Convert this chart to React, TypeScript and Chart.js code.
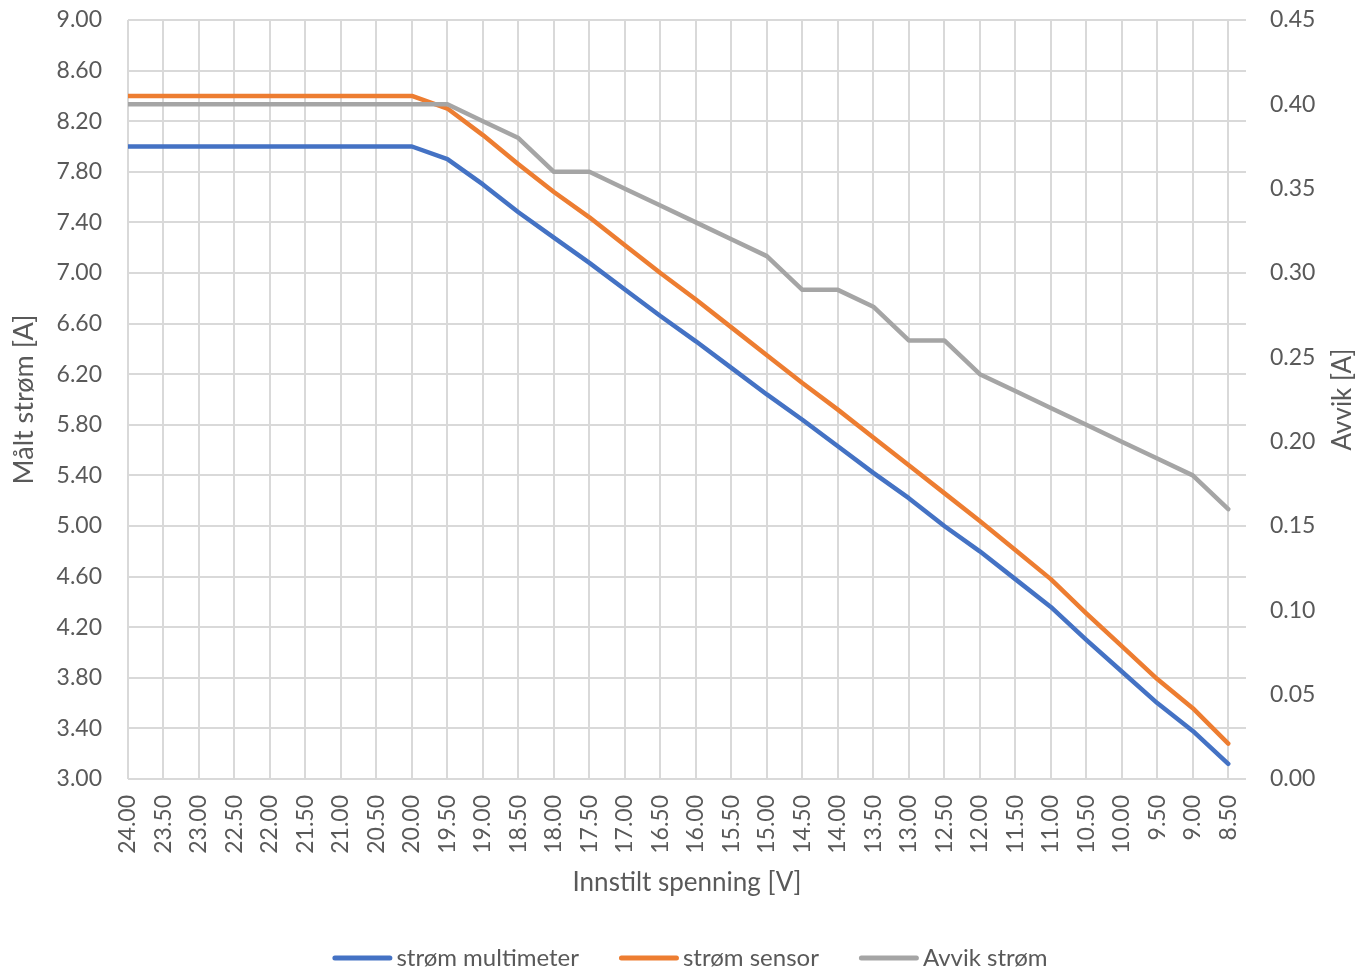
import React, { useEffect, useRef } from "react";
import { Chart, registerables } from "chart.js";

Chart.register(...registerables);

const xLabels = [
  "24.00", "23.50", "23.00", "22.50", "22.00", "21.50", "21.00", "20.50",
  "20.00", "19.50", "19.00", "18.50", "18.00", "17.50", "17.00", "16.50",
  "16.00", "15.50", "15.00", "14.50", "14.00", "13.50", "13.00", "12.50",
  "12.00", "11.50", "11.00", "10.50", "10.00", "9.50", "9.00", "8.50",
];

const stromMultimeter = [
  8.0, 8.0, 8.0, 8.0, 8.0, 8.0, 8.0, 8.0,
  8.0, 7.9, 7.7, 7.48, 7.28, 7.08, 6.87, 6.66,
  6.46, 6.25, 6.04, 5.84, 5.63, 5.42, 5.22, 5.0,
  4.8, 4.58, 4.36, 4.1, 3.85, 3.6, 3.38, 3.12,
];

const stromSensor = [
  8.4, 8.4, 8.4, 8.4, 8.4, 8.4, 8.4, 8.4,
  8.4, 8.3, 8.09, 7.86, 7.64, 7.44, 7.22, 7.0,
  6.79, 6.57, 6.35, 6.13, 5.92, 5.7, 5.48, 5.26,
  5.04, 4.81, 4.58, 4.31, 4.05, 3.79, 3.56, 3.28,
];

const avvikStrom = [
  0.4, 0.4, 0.4, 0.4, 0.4, 0.4, 0.4, 0.4,
  0.4, 0.4, 0.39, 0.38, 0.36, 0.36, 0.35, 0.34,
  0.33, 0.32, 0.31, 0.29, 0.29, 0.28, 0.26, 0.26,
  0.24, 0.23, 0.22, 0.21, 0.2, 0.19, 0.18, 0.16,
];

const seriesNames = ["strøm multimeter", "strøm sensor", "Avvik strøm"];
const seriesColors = ["#4472C4", "#ED7D31", "#A5A5A5"];

const FONT = "Lato";
const TEXT = "#595959";
const GRID = "#D9D9D9";

const rightTitlePlugin = {
  id: "rightTitle",
  afterDraw(chart: any) {
    const { ctx, chartArea } = chart;
    ctx.save();
    ctx.translate(chartArea.right + 97, (chartArea.top + chartArea.bottom) / 2);
    ctx.rotate(-Math.PI / 2);
    ctx.textAlign = "center";
    ctx.textBaseline = "middle";
    ctx.fillStyle = TEXT;
    ctx.font = `26px ${FONT}`;
    ctx.fillText("Avvik [A]", 0, 0);
    ctx.restore();
  },
};

const legendPlugin = {
  id: "bottomLegend",
  afterDraw(chart: any) {
    const { ctx, width } = chart;
    const sample = 60;
    const gap = 4;
    const itemGap = 40;
    const y = 958;
    ctx.save();
    ctx.font = `24px ${FONT}`;
    const widths = seriesNames.map((n) => ctx.measureText(n).width);
    const total =
      widths.reduce((a, b) => a + b, 0) + seriesNames.length * (sample + gap) + (seriesNames.length - 1) * itemGap;
    let x = width / 2 + 4 - total / 2;
    ctx.textBaseline = "middle";
    ctx.textAlign = "left";
    seriesNames.forEach((n, i) => {
      ctx.strokeStyle = seriesColors[i];
      ctx.lineWidth = 5;
      ctx.lineCap = "round";
      ctx.beginPath();
      ctx.moveTo(x + 2.5, y);
      ctx.lineTo(x + sample - 2.5, y);
      ctx.stroke();
      ctx.fillStyle = TEXT;
      ctx.fillText(n, x + sample + gap, y);
      x += sample + gap + widths[i] + itemGap;
    });
    ctx.restore();
  },
};

export default function App() {
  const ref = useRef<HTMLCanvasElement | null>(null);

  useEffect(() => {
    if (!ref.current) return;
    const toPts = (arr: number[]) => arr.map((y, i) => ({ x: i, y }));
    const chart = new Chart(ref.current, {
      type: "line",
      data: {
        datasets: [
          {
            label: seriesNames[0],
            data: toPts(stromMultimeter),
            borderColor: seriesColors[0],
            backgroundColor: seriesColors[0],
            yAxisID: "y",
            order: 3,
          },
          {
            label: seriesNames[1],
            data: toPts(stromSensor),
            borderColor: seriesColors[1],
            backgroundColor: seriesColors[1],
            yAxisID: "y",
            order: 2,
          },
          {
            label: seriesNames[2],
            data: toPts(avvikStrom),
            borderColor: seriesColors[2],
            backgroundColor: seriesColors[2],
            yAxisID: "y1",
            order: 1,
          },
        ],
      },
      options: {
        animation: false,
        responsive: false,
        maintainAspectRatio: false,
        layout: { padding: { top: 20, right: 0, left: 0, bottom: 68 } },
        elements: {
          line: {
            borderWidth: 4.5,
            tension: 0,
            borderCapStyle: "round",
            borderJoinStyle: "round",
          },
          point: { radius: 0, hoverRadius: 0 },
        },
        plugins: {
          tooltip: { enabled: false },
          legend: { display: false },
        },
        scales: {
          x: {
            type: "linear",
            min: 0,
            max: xLabels.length - 0.5,
            afterBuildTicks: (scale: any) => {
              scale.ticks = xLabels.map((_, i) => ({ value: i }));
            },
            afterFit: (scale: any) => {
              scale.height = 127;
              scale.paddingTop = 0;
              scale.paddingBottom = 0;
            },
            grid: { color: GRID, lineWidth: 2, drawTicks: false },
            border: { display: false },
            ticks: {
              autoSkip: false,
              minRotation: 90,
              maxRotation: 90,
              padding: 16,
              color: TEXT,
              font: { family: FONT, size: 23 },
              callback: (v: any) => xLabels[Math.round(Number(v))] ?? "",
            },
            title: {
              display: true,
              text: "Innstilt spenning [V]",
              color: TEXT,
              font: { family: FONT, size: 26 },
              padding: { top: 0, bottom: 8 },
            },
          },
          y: {
            position: "left",
            min: 3,
            max: 9,
            afterFit: (scale: any) => {
              scale.width = 128;
              scale.paddingTop = 0;
              scale.paddingBottom = 0;
            },
            grid: { color: GRID, lineWidth: 2, drawTicks: false },
            border: { display: false },
            ticks: {
              stepSize: 0.4,
              padding: 26,
              color: TEXT,
              font: { family: FONT, size: 23 },
              callback: (v: any) => Number(v).toFixed(2),
            },
            title: {
              display: true,
              text: "Målt strøm [A]",
              color: TEXT,
              font: { family: FONT, size: 27 },
              padding: { top: 8, bottom: 0 },
            },
          },
          y1: {
            position: "right",
            min: 0,
            max: 0.45,
            afterFit: (scale: any) => {
              scale.width = 126;
              scale.paddingTop = 0;
              scale.paddingBottom = 0;
            },
            grid: { display: false, drawTicks: false },
            border: { display: false },
            ticks: {
              stepSize: 0.05,
              padding: 24,
              color: TEXT,
              font: { family: FONT, size: 23 },
              callback: (v: any) => Number(v).toFixed(2),
            },
          },
        },
      },
      plugins: [rightTitlePlugin, legendPlugin],
    } as any);
    return () => chart.destroy();
  }, []);

  return (
    <div style={{ position: "absolute", left: 0, top: 0, width: 1372, height: 974, background: "#fff" }}>
      <canvas ref={ref} width={1372} height={974} style={{ display: "block", width: 1372, height: 974 }} />
    </div>
  );
}
